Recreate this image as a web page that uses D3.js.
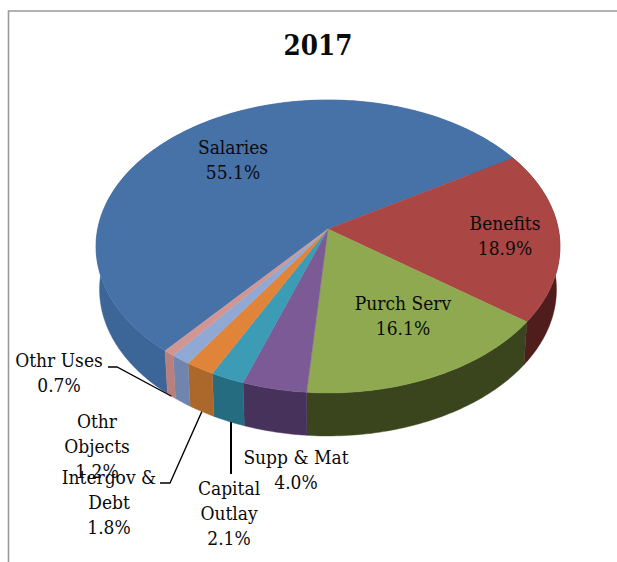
<!DOCTYPE html>
<html>
<head>
<meta charset="utf-8">
<script src="https://cdn.jsdelivr.net/npm/d3@7"></script>
<style>
  html, body { margin: 0; padding: 0; background: #fff; }
  text { font-family: "DejaVu Serif Condensed", "DejaVu Serif", serif; fill: #0a0a0a; }
</style>
</head>
<body>
<svg id="chart" width="617" height="562"></svg>
<script>
// Budget shares for the year, in drawing order around the pie
const categories = ["Salaries", "Benefits", "Purch Serv", "Supp & Mat", "Capital Outlay", "Intergov & Debt", "Othr Objects", "Othr Uses"];
const shares = [55.1, 18.9, 16.1, 4.0, 2.1, 1.8, 1.2, 0.7];
const title = "2017";

const topColors = ["#4672a8", "#aa4644", "#8ea94f", "#7b5a96", "#3c9bb5", "#e0843a", "#8fa8d4", "#d09694"];
const sideColors = ["#3c6698", "#4e1d1c", "#3b451d", "#47325c", "#266c80", "#ac672a", "#6f85ad", "#b87f7e"];

// Line breaks used inside the labels
const labelLines = [["Salaries"], ["Benefits"], ["Purch Serv"], ["Supp & Mat"], ["Capital", "Outlay"], ["Intergov &", "Debt"], ["Othr", "Objects"], ["Othr Uses"]];
// Centre x and first baseline of each label
const labelLayout = [
  { x: 233, y: 154 },
  { x: 505, y: 230 },
  { x: 403, y: 310 },
  { x: 296, y: 464 },
  { x: 229, y: 495 },
  { x: 109, y: 484 },
  { x: 97, y: 428 },
  { x: 59, y: 367 }
];

const svg = d3.select("#chart");

// Perspective view of a flat disc: apex position, half-axes and foreshortening
const apex = { x: 328, y: 229 };
const A = 230.3, B = 144.4, K = 0.1194;
const depth = 43, baseScale = 0.985;

// a: angle clockwise from the far side of the disc, in radians
function rim(a) {
  const u = Math.sin(a), v = -Math.cos(a), w = 1 - K * v;
  return [apex.x + A * u / w, apex.y + B * v / w];
}
function rimBase(a) {
  const [x, y] = rim(a);
  return [apex.x + (x - apex.x) * baseScale, y + depth];
}

const pie = d3.pie().sort(null).value(d => d)
  .startAngle(220 * Math.PI / 180)
  .endAngle((220 + 360) * Math.PI / 180);
const arcs = pie(shares);
const line = d3.line();

function samples(d) {
  const n = Math.max(8, Math.ceil((d.endAngle - d.startAngle) * 60));
  return d3.range(n + 1).map(i => d.startAngle + (d.endAngle - d.startAngle) * i / n);
}

// Chart frame: only top and left edges fall inside the page
svg.append("path")
  .attr("d", "M8.5,562V11H617")
  .attr("fill", "none")
  .attr("stroke", "#999")
  .attr("stroke-width", 1.6);

// Outer wall of the disc, drawn first so the top surface covers the far side
svg.append("g").selectAll("path").data(arcs).join("path")
  .attr("fill", (d, i) => sideColors[i])
  .attr("stroke", (d, i) => sideColors[i])
  .attr("stroke-width", 0.4)
  .attr("d", d => {
    const as = samples(d);
    return line(as.map(rim).concat(as.slice().reverse().map(rimBase))) + "Z";
  });

// Top surface wedges
svg.append("g").selectAll("path").data(arcs).join("path")
  .attr("fill", (d, i) => topColors[i])
  .attr("stroke", (d, i) => topColors[i])
  .attr("stroke-width", 0.4)
  .attr("d", d => line([[apex.x, apex.y]].concat(samples(d).map(rim))) + "Z");

// Leader lines for the small slices outside the disc
const leaders = [
  { i: 7, pts: [[108, 367], [117, 367]], at: 0.5, width: 1.3 },
  { i: 5, pts: [[160, 483], [170, 483]], at: 0.5, width: 1.3 },
  { i: 4, pts: [[231, 474]], at: 0.45, width: 2 }
];
svg.append("g").selectAll("path").data(leaders).join("path")
  .attr("fill", "none")
  .attr("stroke", "#000")
  .attr("stroke-width", d => d.width)
  .attr("d", d => {
    const a = arcs[d.i];
    const end = rimBase(a.startAngle + (a.endAngle - a.startAngle) * d.at);
    return line(d.pts.concat([[d.i === 4 ? 231 : end[0], end[1]]]));
  });

svg.append("text")
  .attr("x", 318).attr("y", 55)
  .attr("text-anchor", "middle")
  .attr("font-size", 27.5)
  .attr("font-weight", "bold")
  .text(title);

// Each label is its category name followed by the share on a new line
const labels = svg.append("g").selectAll("text").data(labelLayout).join("text")
  .attr("text-anchor", "middle")
  .attr("font-size", 19);
labels.each(function (d, i) {
  const t = d3.select(this);
  labelLines[i].concat([d3.format(".1f")(shares[i]) + "%"]).forEach((s, j) => {
    t.append("tspan").attr("x", d.x).attr("y", d.y + j * 25).text(s);
  });
});
</script>
</body>
</html>
